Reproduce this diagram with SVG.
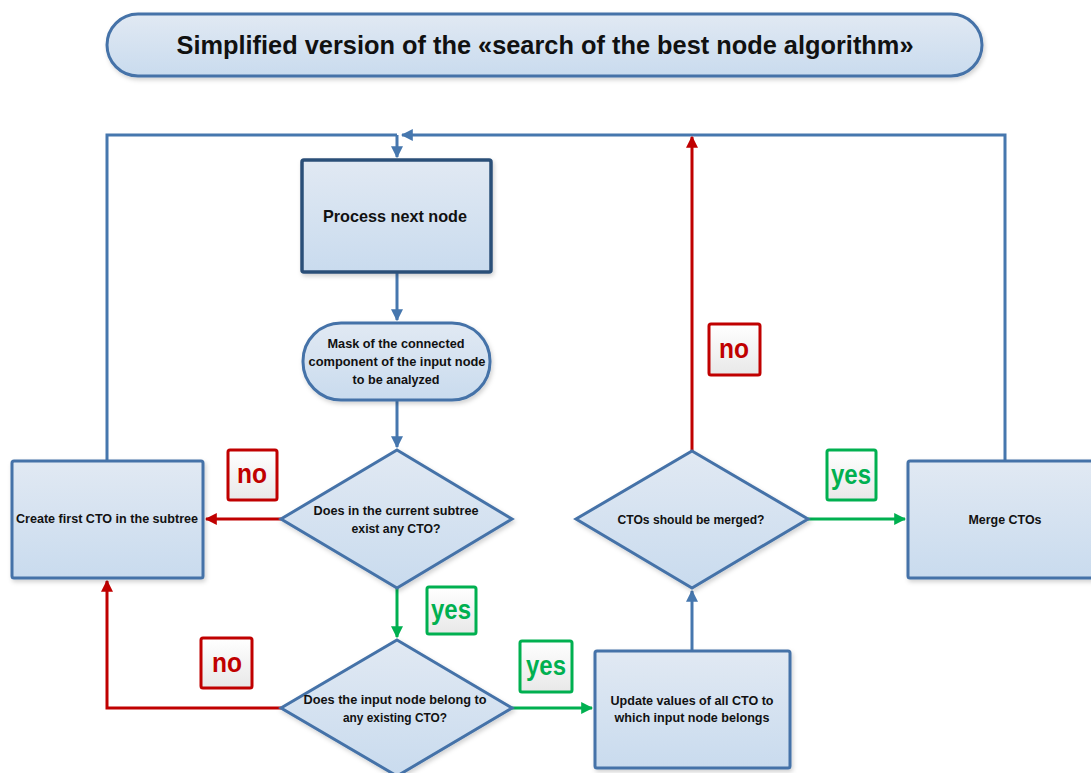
<svg xmlns="http://www.w3.org/2000/svg" width="1091" height="773" viewBox="0 0 1091 773">
  <style>
    .node { fill: url(#nodeFill); stroke: #4472a8; stroke-width: 3; filter: url(#shadow); }
    .strong { stroke: #2b4f78; stroke-width: 3.5; }
    .txt { font-family: "Liberation Sans", Arial, sans-serif; font-weight: bold; fill: #111; text-anchor: middle; }
    .s { font-size: 12.5px; }
    .flow { fill: none; stroke-width: 3; }
    .blue { stroke: #4677ae; }
    .red { stroke: #c00000; }
    .green { stroke: #00b050; }
    .tagNo { fill: url(#tagFill); stroke: #c00000; stroke-width: 3; }
    .tagYes { fill: url(#tagFill); stroke: #00b050; stroke-width: 3; }
    .tagTxt { font-family: "Liberation Sans", Arial, sans-serif; font-weight: bold; font-size: 27px; text-anchor: middle; }
  </style>
  <defs>
    <linearGradient id="nodeFill" x1="0" y1="0" x2="0" y2="1">
      <stop offset="0" stop-color="#e1e9f3"/>
      <stop offset="1" stop-color="#c9dbee"/>
    </linearGradient>
    <linearGradient id="tagFill" x1="0" y1="0" x2="0" y2="1">
      <stop offset="0" stop-color="#ffffff"/>
      <stop offset="1" stop-color="#e8e8e8"/>
    </linearGradient>
    <filter id="shadow" x="-10%" y="-10%" width="125%" height="130%">
      <feDropShadow dx="1.5" dy="2.5" stdDeviation="2" flood-color="#000" flood-opacity="0.18"/>
    </filter>
    <marker id="aBlue" viewBox="0 0 10 10" refX="9" refY="5" markerWidth="4" markerHeight="4" orient="auto" markerUnits="strokeWidth">
      <path d="M0,0 L10,5 L0,10 z" fill="#4677ae"/>
    </marker>
    <marker id="aRed" viewBox="0 0 10 10" refX="9" refY="5" markerWidth="4" markerHeight="4" orient="auto" markerUnits="strokeWidth">
      <path d="M0,0 L10,5 L0,10 z" fill="#c00000"/>
    </marker>
    <marker id="aGreen" viewBox="0 0 10 10" refX="9" refY="5" markerWidth="4" markerHeight="4" orient="auto" markerUnits="strokeWidth">
      <path d="M0,0 L10,5 L0,10 z" fill="#00b050"/>
    </marker>
  </defs>

  <rect width="1091" height="773" fill="#ffffff"/>

  <!-- heading banner -->
  <g id="title">
    <rect x="107" y="14" width="875" height="62" rx="31" ry="31" class="node"/>
    <text x="545" y="54" class="txt" font-size="26" textLength="737" lengthAdjust="spacingAndGlyphs">Simplified version of the «search of the best node algorithm»</text>
  </g>

  <!-- connectors -->
  <g id="connectors">
    <path class="flow blue" d="M107,461 V135 H397"/>
    <path class="flow blue" d="M1005,461 V135 H402" marker-end="url(#aBlue)"/>
    <path class="flow blue" d="M397,135 V157" marker-end="url(#aBlue)"/>
    <path class="flow blue" d="M397,273 V320" marker-end="url(#aBlue)"/>
    <path class="flow blue" d="M397,401 V447" marker-end="url(#aBlue)"/>
    <path class="flow red" d="M281,519 H206" marker-end="url(#aRed)"/>
    <path class="flow green" d="M397,588 V637" marker-end="url(#aGreen)"/>
    <path class="flow red" d="M281,708 H107 V581" marker-end="url(#aRed)"/>
    <path class="flow green" d="M512,708 H592" marker-end="url(#aGreen)"/>
    <path class="flow blue" d="M692,651 V591" marker-end="url(#aBlue)"/>
    <path class="flow red" d="M692,451 V137" marker-end="url(#aRed)"/>
    <path class="flow green" d="M808,519 H905" marker-end="url(#aGreen)"/>
  </g>

  <g id="process-next">
    <rect x="302" y="160" width="189" height="112" rx="2" class="node strong"/>
    <text x="395" y="222" class="txt" font-size="16.5" textLength="144" lengthAdjust="spacingAndGlyphs">Process next node</text>
  </g>

  <g id="mask">
    <rect x="303" y="323" width="187" height="77" rx="38" ry="38" class="node"/>
    <text class="txt s" x="396" y="348" textLength="137" lengthAdjust="spacingAndGlyphs">Mask of the connected</text>
    <text class="txt s" x="397" y="366" textLength="177" lengthAdjust="spacingAndGlyphs">component of the input node</text>
    <text class="txt s" x="396" y="384" textLength="87" lengthAdjust="spacingAndGlyphs">to be analyzed</text>
  </g>

  <g id="exist-cto">
    <polygon points="397,450 512,519 397,588 281,519" class="node"/>
    <text class="txt s" x="396" y="515" textLength="165" lengthAdjust="spacingAndGlyphs">Does in the current subtree</text>
    <text class="txt s" x="396" y="533" textLength="89" lengthAdjust="spacingAndGlyphs">exist any CTO?</text>
  </g>

  <g id="create-cto">
    <rect x="12" y="461" width="191" height="117" rx="2" class="node"/>
    <text class="txt s" x="107" y="523" textLength="182" lengthAdjust="spacingAndGlyphs">Create first CTO in the subtree</text>
  </g>

  <g id="belongs">
    <polygon points="397,640 512,708 397,776 281,708" class="node"/>
    <text class="txt s" x="395" y="704" textLength="183" lengthAdjust="spacingAndGlyphs">Does the input node belong to</text>
    <text class="txt s" x="395" y="722" textLength="104" lengthAdjust="spacingAndGlyphs">any existing CTO?</text>
  </g>

  <g id="update">
    <rect x="595" y="651" width="195" height="117" rx="2" class="node"/>
    <text class="txt" font-size="13" x="692" y="705" textLength="163" lengthAdjust="spacingAndGlyphs">Update values of all CTO to</text>
    <text class="txt" font-size="13" x="692" y="722" textLength="155" lengthAdjust="spacingAndGlyphs">which input node belongs</text>
  </g>

  <g id="merge-check">
    <polygon points="692,451 808,519 692,588 576,519" class="node"/>
    <text class="txt s" x="691" y="524" textLength="147" lengthAdjust="spacingAndGlyphs">CTOs should be merged?</text>
  </g>

  <g id="merge">
    <rect x="908" y="461" width="195" height="117" rx="2" class="node"/>
    <text class="txt" font-size="13" x="1005" y="524" textLength="73" lengthAdjust="spacingAndGlyphs">Merge CTOs</text>
  </g>

  <!-- branch tags -->
  <g id="tag-no-1">
    <rect x="228" y="450" width="49" height="50" rx="2" class="tagNo"/>
    <text class="tagTxt" x="252" y="483" fill="#c00000" textLength="30" lengthAdjust="spacingAndGlyphs">no</text>
  </g>
  <g id="tag-yes-1">
    <rect x="427" y="587" width="49" height="47" rx="2" class="tagYes"/>
    <text class="tagTxt" x="451" y="619" fill="#00b050" textLength="40" lengthAdjust="spacingAndGlyphs">yes</text>
  </g>
  <g id="tag-no-2">
    <rect x="201" y="638" width="51" height="50" rx="2" class="tagNo"/>
    <text class="tagTxt" x="227" y="672" fill="#c00000" textLength="30" lengthAdjust="spacingAndGlyphs">no</text>
  </g>
  <g id="tag-yes-2">
    <rect x="520" y="641" width="52" height="51" rx="2" class="tagYes"/>
    <text class="tagTxt" x="546" y="675" fill="#00b050" textLength="40" lengthAdjust="spacingAndGlyphs">yes</text>
  </g>
  <g id="tag-no-3">
    <rect x="709" y="324" width="51" height="51" rx="2" class="tagNo"/>
    <text class="tagTxt" x="734" y="358" fill="#c00000" textLength="30" lengthAdjust="spacingAndGlyphs">no</text>
  </g>
  <g id="tag-yes-3">
    <rect x="827" y="450" width="49" height="50" rx="2" class="tagYes"/>
    <text class="tagTxt" x="851" y="484" fill="#00b050" textLength="40" lengthAdjust="spacingAndGlyphs">yes</text>
  </g>
</svg>
